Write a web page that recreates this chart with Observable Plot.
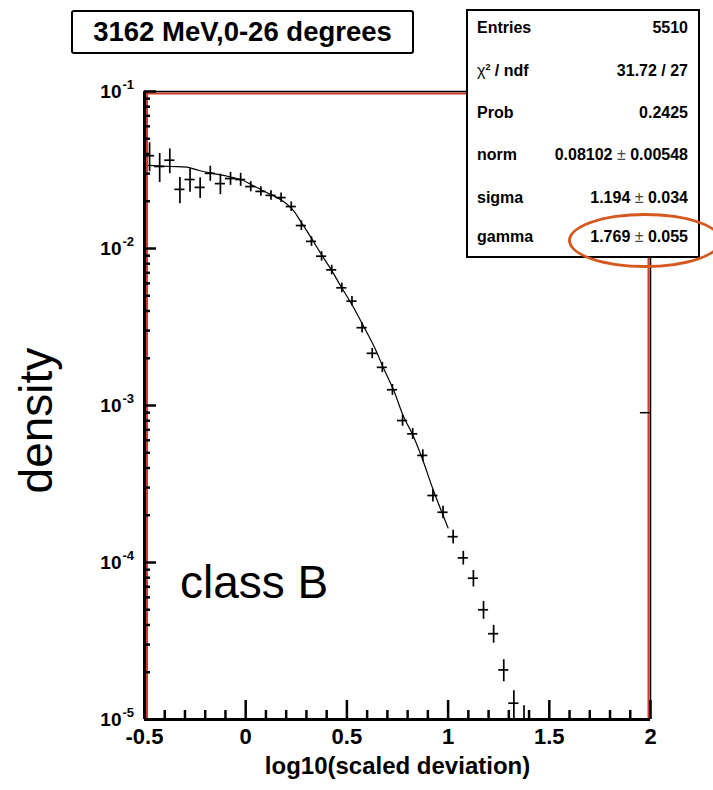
<!DOCTYPE html>
<html><head><meta charset="utf-8">
<script src="https://cdn.jsdelivr.net/npm/d3@7"></script>
<script src="https://cdn.jsdelivr.net/npm/@observablehq/plot@0.6"></script>
<style>
html,body{margin:0;padding:0;background:#fff;overflow:hidden;}
#wrap{position:relative;width:713px;height:790px;font-family:"Liberation Sans",Arial,Helvetica,sans-serif;color:#000;}
#wrap svg{position:absolute;left:0;top:0;}
.titlebox{position:absolute;left:71px;top:10px;width:339px;height:40px;border:2.5px solid #000;border-radius:3px;background:#fff;font-weight:bold;font-size:27.5px;display:flex;align-items:center;justify-content:center;white-space:nowrap;}
.stats{position:absolute;left:466px;top:9px;width:230px;height:245px;border:2px solid #000;background:#fff;font-weight:bold;font-size:16px;}
.row{position:absolute;left:9px;right:10px;height:20px;display:flex;justify-content:space-between;align-items:center;white-space:nowrap;}
.pm{font-weight:normal;color:#444;}
.chi{font-weight:normal;}
sup{font-size:9px;}
.ellipse{position:absolute;left:568px;top:213px;width:154px;height:55px;border:3px solid #d5581f;border-radius:50%;box-sizing:border-box;}
.classB{position:absolute;left:180px;top:559px;font-size:46px;line-height:46px;white-space:nowrap;}
</style>
</head><body>
<div id="wrap"></div>
<script>
// ---- data ----
const binCenters = [-0.475,-0.425,-0.375,-0.325,-0.275,-0.225,-0.175,-0.125,-0.075,-0.025,
  0.025,0.075,0.125,0.175,0.225,0.275,0.325,0.375,0.425,0.475,
  0.525,0.575,0.625,0.675,0.725,0.775,0.825,0.875,0.925,0.975,
  1.025,1.075,1.125,1.175,1.225,1.275,1.325,1.375];
const density = [0.0390,0.0333,0.0365,0.0238,0.0275,0.0245,0.0301,0.0259,0.0279,0.0275,
  0.0248,0.0231,0.0218,0.0211,0.0185,0.0140,0.0111,0.00893,0.00731,0.00562,
  0.00462,0.00313,0.00215,0.00175,0.00126,0.000802,0.000660,0.000481,0.000267,0.000209,
  0.000146,0.000107,0.0000794,0.0000500,0.0000352,0.0000207,0.0000127,0.0000070];
const relErr = [0.21,0.21,0.18,0.19,0.17,0.15,0.11,0.15,0.095,0.095,
  0.075,0.07,0.07,0.07,0.07,0.07,0.07,0.07,0.07,0.07,
  0.07,0.075,0.075,0.075,0.08,0.08,0.08,0.085,0.09,0.09,
  0.10,0.10,0.12,0.13,0.13,0.16,0.20,0.75];
const halfBin = 0.025;
const edgeX = [1.975];
const edgeY = [0.00090];

const fitX = [-0.48,-0.37,-0.29,-0.23,-0.17,-0.11,-0.02,0.03,0.08,0.13,0.18,0.23,0.27,0.32,0.37,0.42,0.47,0.53,0.58,0.64,0.68,0.73,0.78,0.83,0.87,0.93,1.0];
const fitY = [0.0338,0.0333,0.0330,0.0314,0.0302,0.0292,0.0274,0.0254,0.0235,0.0219,0.0202,0.0178,0.0150,0.0119,0.00933,0.00741,0.00575,0.00427,0.00324,0.00229,0.00174,0.00126,0.000851,0.000631,0.000468,0.000282,0.000166];

const xMajor = [-0.5,0,0.5,1,1.5,2];
const xLabels = ["-0.5","0","0.5","1","1.5","2"];
const yMajor = [1e-5,1e-4,1e-3,1e-2,1e-1];
const yExpLabels = ["-5","-4","-3","-2","-1"];
const titleText = "3162 MeV,0-26 degrees";
const xTitle = "log10(scaled deviation)";
const yTitle = "density";
const annotation = "class B";
const statLabels = ["Entries","CHI","Prob","norm","sigma","gamma"];
const statValues = [["5510"],["31.72 / 27"],["0.2425"],["0.08102","0.00548"],["1.194","0.034"],["1.769","0.055"]];

// ---- derived ----
const xMin = -0.5, xMax = 2, yMin = 1e-5, yMax = 1e-1;
const W = 713, H = 790, mL = 144, mR = 63, mT = 91, mB = 71;
const frameW = W - mL - mR, frameH = H - mT - mB;

const xMinor = d3.range(-5, 21).map(i => i / 10).filter(v => !xMajor.some(m => Math.abs(m - v) < 1e-9));
const yMinor = [];
for (let e = -5; e < -1; e++) for (let k = 2; k <= 9; k++) yMinor.push(k * Math.pow(10, e));
const pts = binCenters.map((x, i) => ({
  x, v: density[i],
  lo: Math.max(density[i] * (1 - relErr[i]), 1e-7),
  hi: density[i] * (1 + relErr[i])
}));
const edge = edgeX.map((x, i) => ({x, v: edgeY[i]}));
const fit = fitX.map((x, i) => ({x, y: fitY[i]}));

const red = "#cf3b26";
const tickColor = "#000";
const font = '"Liberation Sans", Arial, Helvetica, sans-serif';

const chart = Plot.plot({
  width: W, height: H, marginLeft: mL, marginRight: mR, marginTop: mT, marginBottom: mB,
  style: {fontFamily: font, background: "transparent", overflow: "visible", color: "#000"},
  x: {domain: [xMin, xMax], axis: null},
  y: {type: "log", domain: [yMin, yMax], axis: null},
  marks: [
    Plot.ruleX([xMin], {stroke: red, strokeWidth: 2, dx: 2.5}),
    Plot.ruleX([xMax], {stroke: red, strokeWidth: 2, dx: -2}),
    Plot.ruleY([yMax], {stroke: red, strokeWidth: 2, dy: 2}),
    Plot.ruleX([xMax], {stroke: "#000", strokeWidth: 1.5}),
    Plot.ruleY([yMax], {stroke: "#000", strokeWidth: 1.5}),
    // inward ticks
    Plot.tickX(xMajor, {x: d => d, insetTop: frameH - 19, stroke: tickColor, strokeWidth: 2.5}),
    Plot.tickX(xMinor, {x: d => d, insetTop: frameH - 9, stroke: tickColor, strokeWidth: 2.5}),
    Plot.tickY(yMajor, {y: d => d, insetRight: frameW - 12, stroke: tickColor, strokeWidth: 2.5}),
    Plot.tickY(yMinor, {y: d => d, insetRight: frameW - 6, stroke: tickColor, strokeWidth: 2.5}),
    Plot.ruleX([xMin], {stroke: "#000", strokeWidth: 3}),
    Plot.ruleY([yMin], {stroke: "#000", strokeWidth: 3}),
    // fit and data
    Plot.line(fit, {x: "x", y: "y", curve: "catmull-rom", stroke: "#000", strokeWidth: 1.2}),
    Plot.ruleY(pts, {y: "v", x1: d => d.x - halfBin, x2: d => d.x + halfBin, stroke: "#000", strokeWidth: 1.7, clip: true}),
    Plot.ruleX(pts, {x: "x", y1: "lo", y2: "hi", stroke: "#000", strokeWidth: 1.7, clip: true}),
    Plot.ruleY(edge, {y: "v", x1: d => d.x - halfBin, x2: d => d.x + halfBin, stroke: "#000", strokeWidth: 1.5}),
    // labels
    Plot.text(xMajor, {x: d => d, text: (d, i) => xLabels[i], frameAnchor: "bottom", textAnchor: "middle", dy: 24, fontSize: 22, fontWeight: "bold"}),
    Plot.text(yMajor, {y: d => d, text: () => "10", frameAnchor: "left", textAnchor: "end", dx: -23, fontSize: 19, fontWeight: "bold"}),
    Plot.text(yMajor, {y: d => d, text: (d, i) => yExpLabels[i], frameAnchor: "left", textAnchor: "start", dx: -22, dy: -7, fontSize: 13, fontWeight: "bold"}),
    Plot.text([xTitle], {text: d => d, frameAnchor: "bottom", textAnchor: "middle", dy: 54, fontSize: 24, fontWeight: "bold"}),
    Plot.text([yTitle], {text: d => d, frameAnchor: "left", textAnchor: "middle", rotate: -90, dx: -107, dy: 15, fontSize: 46})
  ]
});

const wrap = document.getElementById("wrap");
wrap.appendChild(chart);

const tb = document.createElement("div");
tb.className = "titlebox";
tb.textContent = titleText;
wrap.appendChild(tb);

const st = document.createElement("div");
st.className = "stats";
const rowCenters = [17, 60, 102, 144, 187, 226];
statLabels.forEach((lab, i) => {
  const r = document.createElement("div");
  r.className = "row";
  r.style.top = (rowCenters[i] - 10) + "px";
  const l = document.createElement("span");
  if (lab === "CHI") {
    l.innerHTML = '<span class="chi">\u03C7</span><sup>2</sup> / ndf';
  } else l.textContent = lab;
  const v = document.createElement("span");
  const vals = statValues[i];
  if (vals.length === 2) {
    v.innerHTML = vals[0] + ' <span class="pm">\u00B1</span> ' + vals[1];
  } else v.textContent = vals[0];
  r.appendChild(l); r.appendChild(v);
  st.appendChild(r);
});
wrap.appendChild(st);

const el = document.createElement("div");
el.className = "ellipse";
wrap.appendChild(el);

const cb = document.createElement("div");
cb.className = "classB";
cb.textContent = annotation;
wrap.appendChild(cb);
</script>
</body></html>
